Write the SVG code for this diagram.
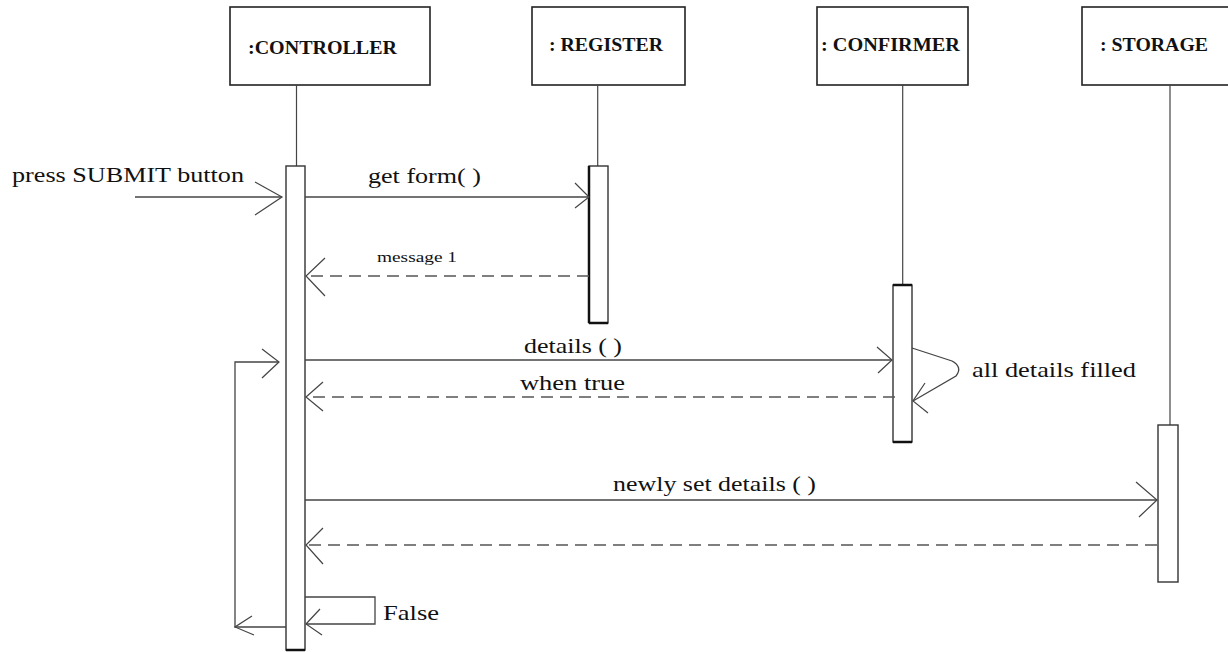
<svg xmlns="http://www.w3.org/2000/svg" width="1228" height="652" viewBox="0 0 1228 652">
<style>
  .box { fill: #ffffff; stroke: #222; stroke-width: 1.6; }
  .life { fill: none; stroke: #444; stroke-width: 1.2; }
  .bar { fill: #ffffff; stroke: #333; stroke-width: 1.4; }
  .msg { fill: none; stroke: #444; stroke-width: 1.3; }
  .ret { fill: none; stroke: #555; stroke-width: 1.3; stroke-dasharray: 12 7; }
  .head { fill: none; stroke: #444; stroke-width: 1.2; }
  .hdr { font-family: "Liberation Serif", "Times New Roman", serif; font-size: 18.5px; font-weight: bold; fill: #111; }
  .lbl { font-family: "Liberation Serif", "Times New Roman", serif; font-size: 22px; fill: #111; }
  .small { font-family: "Liberation Serif", "Times New Roman", serif; font-size: 15px; fill: #111; }
</style>
<rect x="0" y="0" width="1228" height="652" fill="#ffffff"/>

<g id="controller">
  <rect class="box" x="230" y="7" width="200" height="78"/>
  <text class="hdr" x="248" y="54" textLength="149" lengthAdjust="spacingAndGlyphs">:CONTROLLER</text>
  <line class="life" x1="296.5" y1="85" x2="296.5" y2="166"/>
  <rect class="bar" x="286" y="166" width="19" height="484"/>
  <line x1="286" y1="650" x2="305" y2="650" stroke="#111" stroke-width="2.5"/>
</g>

<g id="register">
  <rect class="box" x="532" y="7" width="153" height="78"/>
  <text class="hdr" x="549" y="51" textLength="114" lengthAdjust="spacingAndGlyphs">: REGISTER</text>
  <line class="life" x1="597.7" y1="85" x2="597.7" y2="166"/>
  <rect class="bar" x="589" y="166" width="19" height="157"/>
  <line x1="589" y1="166" x2="589" y2="323" stroke="#111" stroke-width="2.5"/>
  <line x1="589" y1="323" x2="608" y2="323" stroke="#111" stroke-width="2.5"/>
</g>

<g id="confirmer">
  <rect class="box" x="817" y="7" width="151" height="78"/>
  <text class="hdr" x="821" y="51" textLength="139" lengthAdjust="spacingAndGlyphs">: CONFIRMER</text>
  <line class="life" x1="902.7" y1="85" x2="902.7" y2="285"/>
  <rect class="bar" x="893" y="285" width="19" height="157"/>
  <line x1="893" y1="285" x2="912" y2="285" stroke="#111" stroke-width="2.5"/>
  <line x1="893" y1="442" x2="912" y2="442" stroke="#111" stroke-width="2.5"/>
</g>

<g id="storage">
  <rect class="box" x="1082" y="7" width="160" height="78"/>
  <text class="hdr" x="1100" y="51" textLength="108" lengthAdjust="spacingAndGlyphs">: STORAGE</text>
  <line class="life" x1="1170" y1="85" x2="1170" y2="425"/>
  <rect class="bar" x="1158" y="425" width="20" height="157"/>
</g>

<g id="connectors">
  <!-- press SUBMIT button -->
  <line class="msg" x1="135" y1="197" x2="282" y2="197"/>
  <polyline class="head" points="255,182 282,197 255,215"/>
  <!-- get form() -->
  <line class="msg" x1="305" y1="197" x2="589" y2="197"/>
  <polyline class="head" points="575,183 589,197 575,208"/>
  <!-- message 1 -->
  <line class="ret" x1="589" y1="276" x2="306" y2="276"/>
  <polyline class="head" points="325,258 306,276 325,296"/>
  <!-- details () -->
  <line class="msg" x1="305" y1="360" x2="892" y2="360"/>
  <polyline class="head" points="877,347 892,360 878,373"/>
  <!-- self message all details filled -->
  <path class="msg" d="M912,348 L952,361 Q963,367 956,376 L913,401"/>
  <polyline class="head" points="925,383 913,401 928,413"/>
  <!-- when true -->
  <line class="ret" x1="895" y1="397" x2="306" y2="397"/>
  <polyline class="head" points="323,382 306,397 323,411"/>
  <!-- newly set details () -->
  <line class="msg" x1="305" y1="500" x2="1157" y2="500"/>
  <polyline class="head" points="1136,482 1157,500 1139,517"/>
  <!-- return from storage -->
  <line class="ret" x1="1157" y1="545" x2="306" y2="545"/>
  <polyline class="head" points="323,528 306,545 323,564"/>
  <!-- False self loop -->
  <polyline class="msg" points="305,597 375,597 375,624 306,624"/>
  <polyline class="head" points="320,609 306,624 322,635"/>
  <!-- loop back -->
  <polyline class="msg" points="286,627 235,627 235,362 279,362"/>
  <polyline class="head" points="252,616 235,627 254,635"/>
  <polyline class="head" points="262,349 279,362 262,378"/>
</g>

<g id="labels">
  <text class="lbl" x="12" y="182" font-size="21" textLength="232" lengthAdjust="spacingAndGlyphs">press SUBMIT button</text>
  <text class="lbl" x="368" y="183" textLength="113" lengthAdjust="spacingAndGlyphs">get form( )</text>
  <text class="small" x="377" y="262" textLength="80" lengthAdjust="spacingAndGlyphs">message 1</text>
  <text class="lbl" x="524" y="353" textLength="98" lengthAdjust="spacingAndGlyphs">details ( )</text>
  <text class="lbl" x="520" y="390" textLength="105" lengthAdjust="spacingAndGlyphs">when true</text>
  <text class="lbl" x="972" y="377" textLength="164" lengthAdjust="spacingAndGlyphs">all details filled</text>
  <text class="lbl" x="613" y="491" textLength="203" lengthAdjust="spacingAndGlyphs">newly set details ( )</text>
  <text class="lbl" x="383" y="620" font-size="23" textLength="56" lengthAdjust="spacingAndGlyphs">False</text>
</g>
</svg>
